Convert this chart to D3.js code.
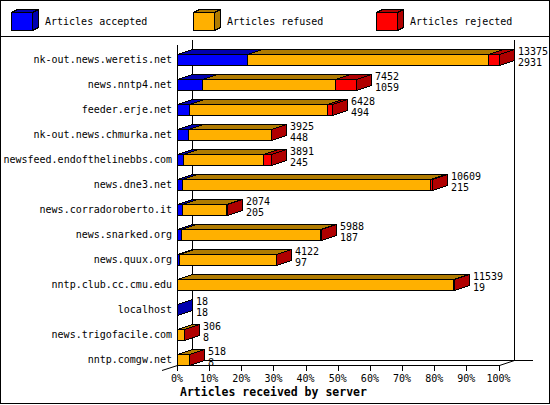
<!DOCTYPE html>
<html>
<head>
<meta charset="utf-8">
<script src="https://cdn.jsdelivr.net/npm/d3@7"></script>
<style>
body { margin: 0; background: #fff; }
svg { display: block; }
text { font-family: "DejaVu Sans Mono", monospace; font-size: 10px; fill: #000; }
</style>
</head>
<body>
<svg id="chart" width="550" height="405"></svg>
<script>
// data (rejected / refused)
var servers = ["nk-out.news.weretis.net", "news.nntp4.net", "feeder.erje.net",
  "nk-out.news.chmurka.net", "newsfeed.endofthelinebbs.com", "news.dne3.net",
  "news.corradoroberto.it", "news.snarked.org", "news.quux.org",
  "nntp.club.cc.cmu.edu", "localhost", "news.trigofacile.com", "nntp.comgw.net"];
var totals   = [13375, 7452, 6428, 3925, 3891, 10609, 2074, 5988, 4122, 11539, 18, 306, 518];
var accepted = [2931, 1059, 494, 448, 245, 215, 205, 187, 97, 19, 18, 8, 8];
var refused  = [10027, 5518, 5738, 3467, 3341, 10314, 1839, 5781, 4005, 11450, 0, 268, 490];
var rejected = [417, 875, 196, 10, 305, 80, 30, 20, 20, 70, 0, 30, 20];
var pctTicks = [0, 10, 20, 30, 40, 50, 60, 70, 80, 90, 100];

var seriesNames = ["Articles accepted", "Articles refused", "Articles rejected"];
var fronts = ["#0000ff", "#ffb000", "#ff0000"];
var shades = ["#0000b0", "#b07b00", "#b00000"];

var svg = d3.select("#chart");
var dx = 15, dy = 5, barH = 11;
var maxTotal = d3.max(totals);

var x = d3.scaleLinear().domain([0, 100]).range([177, 498.5]);
var y = d3.scaleBand().domain(servers).range([47, 372]);

function px(v) { return Math.round(x(v / maxTotal * 100)); }
function pts(a) { return a.map(function(p) { return p.join(","); }).join(" "); }

var lines = svg.append("g").attr("stroke", "#000").attr("shape-rendering", "crispEdges");

// frame + legend separator
lines.append("rect").attr("x", 0.5).attr("y", 0.5).attr("width", 549).attr("height", 403).attr("fill", "none");
lines.append("line").attr("x1", 0).attr("x2", 550).attr("y1", 36.5).attr("y2", 36.5);

// legend
var leg = svg.append("g").attr("stroke", "#000").attr("shape-rendering", "crispEdges");
var legX = [11, 193, 376];
seriesNames.forEach(function(name, k) {
  var lx = legX[k] + 0.5, ly = 12.5, lw = 21, lh = 18, ldx = 6, ldy = 3;
  leg.append("polygon").attr("fill", shades[k])
    .attr("points", pts([[lx, ly], [lx + ldx, ly - ldy], [lx + lw + ldx, ly - ldy], [lx + lw, ly]]));
  leg.append("polygon").attr("fill", shades[k])
    .attr("points", pts([[lx + lw, ly], [lx + lw + ldx, ly - ldy], [lx + lw + ldx, ly + lh - ldy], [lx + lw, ly + lh]]));
  leg.append("rect").attr("fill", fronts[k]).attr("x", lx).attr("y", ly).attr("width", lw).attr("height", lh);
  svg.append("text").attr("x", legX[k] + 34).attr("y", 25).text(name);
});

// back walls / floor
var x0 = x(0), x100 = x(100);
var yTop = 45, yBot = 365;
lines.append("line").attr("x1", x0 + dx + 0.5).attr("x2", x0 + dx + 0.5).attr("y1", yTop - dy).attr("y2", yBot - dy + 0.5);
lines.append("line").attr("x1", Math.round(x100) + dx + 0.5).attr("x2", Math.round(x100) + dx + 0.5).attr("y1", yTop - dy).attr("y2", yBot - dy + 0.5);
lines.append("line").attr("x1", x0 + dx).attr("x2", Math.round(x100) + dx + 19).attr("y1", yBot - dy + 0.5).attr("y2", yBot - dy + 0.5);
// front axes
lines.append("line").attr("x1", x0 + 0.5).attr("x2", x0 + 0.5).attr("y1", yTop).attr("y2", yBot + 0.5);
lines.append("line").attr("x1", x0).attr("x2", Math.round(x100) + 0.5).attr("y1", yBot + 0.5).attr("y2", yBot + 0.5);
svg.append("g").attr("stroke", "#000")
  .call(function(g) {
    g.append("line").attr("x1", Math.round(x100) + 0.5).attr("y1", yBot + 0.5).attr("x2", Math.round(x100) + dx + 0.5).attr("y2", yBot - dy + 0.5);
    g.append("line").attr("x1", x0 - dx).attr("y1", yBot + 5.5).attr("x2", x0 + 0.5).attr("y2", yBot + 0.5);
  });

// ticks
pctTicks.forEach(function(t) {
  var tx = Math.round(x(t)) + 0.5;
  lines.append("line").attr("x1", tx).attr("x2", tx).attr("y1", yBot + 0.5).attr("y2", yBot + 5.5);
  svg.append("text").attr("x", x(t)).attr("y", 382).attr("text-anchor", "middle").text(t + "%");
});

svg.append("text").attr("x", 180).attr("y", 396)
  .style("font-weight", "bold").style("font-size", "11.5px")
  .text("Articles received by server");

// bars
var bars = svg.append("g").attr("stroke", "#000").attr("shape-rendering", "crispEdges");
servers.forEach(function(s, i) {
  var c = y(s) + y.bandwidth() / 2;
  var top = Math.round(c - 5.5) + 0.5, bot = top + barH;
  var segs = [accepted[i], refused[i], rejected[i]];
  var cum = 0;
  segs.forEach(function(v, k) {
    if (v <= 0) return;
    var a = px(cum) + 0.5, b = px(cum + v) + 0.5;
    cum += v;
    bars.append("rect").attr("fill", fronts[k]).attr("x", a).attr("y", top).attr("width", b - a).attr("height", barH);
    bars.append("polygon").attr("fill", shades[k])
      .attr("points", pts([[a, top], [a + dx, top - dy], [b + dx, top - dy], [b, top]]));
    bars.append("polygon").attr("fill", shades[k])
      .attr("points", pts([[b, top], [b + dx, top - dy], [b + dx, bot - dy], [b, bot]]));
  });

  svg.append("text").attr("x", 172).attr("y", c + 3.5).attr("text-anchor", "end").text(s);
  var lx = px(totals[i]) + dx + 4;
  svg.append("text").attr("x", lx).attr("y", top).text(totals[i]);
  svg.append("text").attr("x", lx).attr("y", bot).text(accepted[i]);
});
</script>
</body>
</html>
